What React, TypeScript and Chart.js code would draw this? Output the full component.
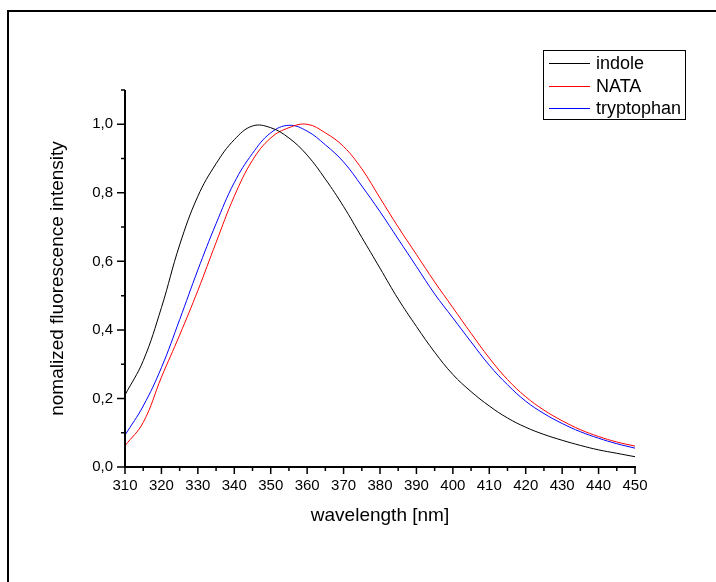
import React, { useEffect, useRef } from "react";
import { Chart, registerables } from "chart.js";

Chart.register(...registerables);

// ---- data ----
const wavelengths = [
  310, 315, 320, 325, 330, 335, 340, 345, 350, 355, 360, 365, 370, 375, 380,
  385, 390, 395, 400, 405, 410, 415, 420, 425, 430, 435, 440, 445, 450,
];
const indole = [
  0.21, 0.31, 0.465, 0.648, 0.79, 0.885, 0.955, 0.995, 0.99, 0.96, 0.91, 0.84,
  0.76, 0.67, 0.58, 0.49, 0.41, 0.335, 0.27, 0.22, 0.178, 0.143, 0.116, 0.095,
  0.078, 0.063, 0.05, 0.04, 0.03,
];
const nata = [
  0.062, 0.13, 0.262, 0.385, 0.515, 0.655, 0.79, 0.895, 0.96, 0.99, 1.0, 0.975,
  0.935, 0.87, 0.785, 0.7, 0.62, 0.54, 0.465, 0.39, 0.318, 0.255, 0.205,
  0.166, 0.135, 0.109, 0.089, 0.073, 0.061,
];
const tryptophan = [
  0.093, 0.178, 0.29, 0.43, 0.575, 0.71, 0.83, 0.915, 0.975, 0.997, 0.98, 0.94,
  0.89, 0.82, 0.745, 0.665, 0.585, 0.505, 0.435, 0.365, 0.297, 0.24, 0.192,
  0.156, 0.127, 0.103, 0.084, 0.068, 0.055,
];
const seriesLabels = ["indole", "NATA", "tryptophan"];
const seriesColors = ["#000000", "#ff0000", "#0000ff"];
const seriesValues = [indole, nata, tryptophan];

const xMin = 310;
const xMax = 450;
const xMajorStep = 10;
const xMinorStep = 5;
const yMin = 0;
const yMax = 1.1;
const yMajorStep = 0.2;
const yMinorStep = 0.1;
const xTitle = "wavelength [nm]";
const yTitle = "nomalized fluorescence intensity";

const FONT = '"Liberation Sans", Arial, Helvetica, sans-serif';

const axesPlugin = {
  id: "originAxes",
  afterDatasetsDraw(chart: any) {
    const { ctx, scales } = chart;
    const xs = scales.x;
    const ys = scales.y;
    const x0 = xs.getPixelForValue(xMin);
    const x1 = xs.getPixelForValue(xMax);
    const y0 = ys.getPixelForValue(yMin);
    const y1 = ys.getPixelForValue(yMax);
    ctx.save();
    ctx.strokeStyle = "#000";
    ctx.lineWidth = 2;
    ctx.beginPath();
    ctx.moveTo(x0, y1);
    ctx.lineTo(x0, y0 + 1);
    ctx.moveTo(x0 - 1, y0);
    ctx.lineTo(x1 + 1, y0);
    ctx.stroke();
    ctx.lineWidth = 1.5;
    ctx.beginPath();
    const nx = Math.round((xMax - xMin) / xMinorStep);
    for (let i = 0; i <= nx; i++) {
      const v = xMin + i * xMinorStep;
      const major = i % Math.round(xMajorStep / xMinorStep) === 0;
      const px = xs.getPixelForValue(v);
      ctx.moveTo(px, y0);
      ctx.lineTo(px, y0 + (major ? 7 : 4));
    }
    const ny = Math.round((yMax - yMin) / yMinorStep);
    for (let i = 0; i <= ny; i++) {
      const v = yMin + i * yMinorStep;
      const major = i % Math.round(yMajorStep / yMinorStep) === 0;
      const py = ys.getPixelForValue(v);
      ctx.moveTo(x0, py);
      ctx.lineTo(x0 - (major ? 8 : 4), py);
    }
    ctx.stroke();
    ctx.restore();
  },
};

const legendPlugin = {
  id: "boxLegend",
  afterDraw(chart: any) {
    const { ctx } = chart;
    const bx = 543.5;
    const by = 50.5;
    const bw = 142;
    const bh = 69;
    ctx.save();
    ctx.fillStyle = "#fff";
    ctx.fillRect(bx, by, bw, bh);
    ctx.strokeStyle = "#000";
    ctx.lineWidth = 1;
    ctx.strokeRect(bx, by, bw, bh);
    ctx.font = `18px ${FONT}`;
    ctx.textBaseline = "middle";
    ctx.textAlign = "left";
    chart.data.datasets.forEach((ds: any, i: number) => {
      const yy = 63 + i * 22.7;
      ctx.strokeStyle = ds.borderColor;
      ctx.lineWidth = 1;
      ctx.beginPath();
      ctx.moveTo(549, Math.round(yy) + 0.5);
      ctx.lineTo(590, Math.round(yy) + 0.5);
      ctx.stroke();
      ctx.fillStyle = "#000";
      ctx.fillText(ds.label, 596, yy + 1);
    });
    ctx.restore();
  },
};

export default function App() {
  const ref = useRef<HTMLCanvasElement>(null);
  useEffect(() => {
    if (!ref.current) return;
    const datasets = seriesLabels.map((label, i) => ({
      label,
      data: wavelengths.map((w, j) => ({ x: w, y: seriesValues[i][j] })),
      borderColor: seriesColors[i],
      backgroundColor: seriesColors[i],
      borderWidth: 1,
      pointRadius: 0,
      fill: false,
      tension: 0.4,
    }));
    const chart = new Chart(ref.current, {
      type: "line",
      data: { datasets },
      options: {
        responsive: false,
        animation: false,
        devicePixelRatio: 1,
        layout: { padding: { left: 0, top: 90, right: 81, bottom: 0 } },
        plugins: {
          legend: { display: false },
          tooltip: { enabled: false },
        },
        scales: {
          x: {
            type: "linear",
            min: xMin,
            max: xMax,
            grid: { display: false, drawTicks: false, tickLength: 0 },
            border: { display: false },
            ticks: {
              stepSize: xMajorStep,
              includeBounds: false,
              autoSkip: false,
              maxRotation: 0,
              padding: 10,
              color: "#000",
              font: { size: 15, family: FONT },
              callback: (v: any) => String(Math.round(Number(v))),
            },
            title: {
              display: true,
              text: xTitle,
              color: "#000",
              font: { size: 19, family: FONT },
              padding: { top: 0, bottom: 55 },
            },
            afterFit: (s: any) => {
              s.height = 115;
            },
          },
          y: {
            type: "linear",
            min: yMin,
            max: yMax,
            grid: { display: false, drawTicks: false, tickLength: 0 },
            border: { display: false },
            ticks: {
              stepSize: yMajorStep,
              includeBounds: false,
              autoSkip: false,
              padding: 12,
              color: "#000",
              font: { size: 15, family: FONT },
              callback: (v: any) => Number(v).toFixed(1).replace(".", ","),
            },
            title: {
              display: true,
              text: yTitle,
              color: "#000",
              font: { size: 19, family: FONT },
              padding: { top: 46, bottom: 0 },
            },
            afterFit: (s: any) => {
              s.width = 125;
            },
          },
        },
      },
      plugins: [axesPlugin, legendPlugin],
    });
    return () => chart.destroy();
  }, []);

  return (
    <div
      style={{
        position: "fixed",
        left: 0,
        top: 0,
        width: 716,
        height: 582,
        background: "#fff",
        overflow: "hidden",
      }}
    >
      <div
        style={{
          position: "absolute",
          left: 7,
          top: 10,
          width: 709,
          height: 572,
          borderLeft: "2px solid #000",
          borderTop: "2px solid #000",
          boxSizing: "border-box",
        }}
      />
      <canvas
        ref={ref}
        width={716}
        height={582}
        style={{ position: "absolute", left: 0, top: 0, width: 716, height: 582 }}
      />
    </div>
  );
}
